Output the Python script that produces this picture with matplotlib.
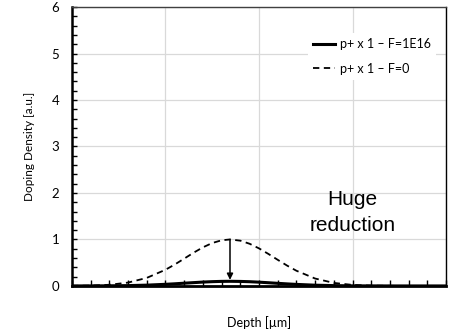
import numpy as np
import matplotlib.pyplot as plt

# profundidade (unidades arbitrárias) e densidades
depth = [0.0, 0.2, 0.4, 0.6, 0.8, 1.0, 1.1, 1.2, 1.3, 1.4, 1.5, 1.6, 1.69,
         1.8, 1.9, 2.0, 2.1, 2.2, 2.3, 2.4, 2.6, 2.8, 3.0, 3.2, 3.4, 3.6, 4.0]
dop_f0 = [0.002, 0.007, 0.025, 0.072, 0.173, 0.348, 0.462, 0.587, 0.714, 0.830, 0.923, 0.982, 1.0,
          0.974, 0.907, 0.808, 0.689, 0.562, 0.438, 0.327, 0.159, 0.065, 0.022, 0.006, 0.002, 0.0, 0.0]
dop_f1e16 = [0.0, 0.001, 0.003, 0.007, 0.017, 0.035, 0.046, 0.059, 0.071, 0.083, 0.092, 0.098, 0.1,
             0.097, 0.091, 0.081, 0.069, 0.056, 0.044, 0.033, 0.016, 0.007, 0.002, 0.001, 0.0, 0.0, 0.0]
labels = ['p+ x 1 – F=1E16', 'p+ x 1 – F=0']
peak_x = 1.69

plt.rcParams['font.family'] = ['Lato', 'DejaVu Sans']

fig = plt.figure(figsize=(4.58, 3.36), dpi=100)
ax = fig.add_axes([0.157, 0.149, 0.817, 0.830])

ax.plot(depth, dop_f1e16, color='black', lw=2.2, label=labels[0], zorder=4)
ax.plot(depth, dop_f0, color='black', lw=1.3, dashes=(3.5, 2.5), label=labels[1], zorder=4)

ax.annotate('', xy=(peak_x, 0.13), xytext=(peak_x, 1.0),
            arrowprops=dict(arrowstyle='-|>', color='black', lw=1.1,
                            mutation_scale=9, shrinkA=0, shrinkB=0), zorder=5)

ax.text(3.0, 1.58, 'Huge\nreduction', ha='center', va='center', fontsize=15,
        family='Liberation Sans', linespacing=1.45)

ax.set_xlim(0, 4)
ax.set_ylim(0, 6)
ax.set_xticks([0, 1, 2, 3, 4])
ax.set_xticks(np.arange(0, 4.01, 0.2), minor=True)
ax.set_yticks(range(7))
ax.set_yticks(np.arange(0, 6.01, 0.2), minor=True)
ax.tick_params(axis='x', which='both', direction='in', length=4, width=1, labelbottom=False)
ax.tick_params(axis='y', which='both', direction='in', length=3.5, width=1, labelsize=9.5, pad=9)
ax.grid(True, which='major', color='#d9d9d9', lw=0.9, zorder=0)
ax.set_axisbelow(True)

ax.spines['left'].set_linewidth(1.8)
ax.spines['bottom'].set_linewidth(2.0)
ax.spines['top'].set_linewidth(1.0)
ax.spines['top'].set_color('#404040')
ax.spines['right'].set_linewidth(1.0)

ax.set_xlabel('Depth [µm]', fontsize=9, labelpad=22)
ax.set_ylabel('Doping Density [a.u.]', fontsize=8.5, labelpad=12)

leg = ax.legend(loc='center', bbox_to_anchor=(3.21, 4.94), bbox_transform=ax.transData,
                fontsize=9, handlelength=1.7, handletextpad=0.45, labelspacing=1.0,
                frameon=True, fancybox=False, framealpha=1, edgecolor='none', borderpad=0.4)

fig.savefig('out.png', dpi=100)
